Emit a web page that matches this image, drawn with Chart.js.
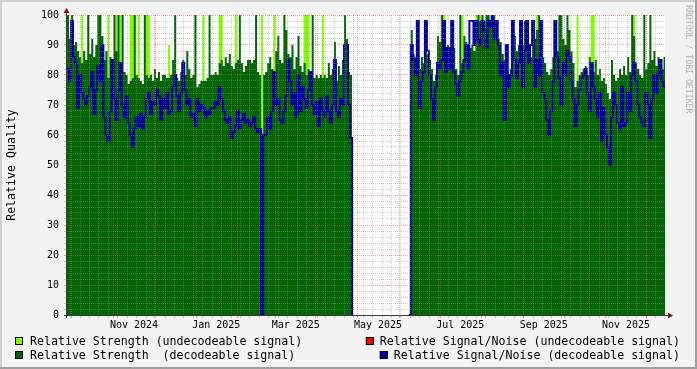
<!DOCTYPE html>
<html>
<head>
<meta charset="utf-8">
<title>Relative Quality</title>
<script src="https://cdn.jsdelivr.net/npm/chart.js@4.4.1/dist/chart.umd.min.js"></script>
<style>
  html, body { margin: 0; padding: 0; background: #f2f2f2; }
  canvas { display: block; }
</style>
</head>
<body>
<canvas id="chart" width="697" height="369"></canvas>
<script>
// x values are days since 2024-10-01, one consolidated RRD row every 1.5 days
const firstSampleDay = -3.7;
const sampleStepDays = 1.5;
const axisFirstDay = -3.7;
const axisLastDay = 439.9;

// first of each month (days since 2024-10-01) -> major grid
const monthStartDays = [0, 31, 61, 92, 123, 151, 182, 212, 243, 273, 304, 335, 365, 396, 426];
// first monday shown -> weekly minor grid
const firstMondayDay = -1;
// month labels sit in the middle of their month
const labelDays = [46, 107, 166, 227, 288, 350, 411];
const labelTexts = ['Nov 2024', 'Jan 2025', 'Mar 2025', 'May 2025', 'Jul 2025', 'Sep 2025', 'Nov 2025'];

const yMax = 100;
const yMinorStep = 2;
const yMajorStep = 10;

const decodeableStrength = [
  100, 92, 100, 90, 91, 88, 86, 84, 88, 85,
  100, 87, 92, 86, 90, 100, 100, 93, 85, 88,
  79, 86, 84, 100, 88, 100, 84, 100, 81, 80,
  77, 78, 79, 100, 80, 79, 78, 77, 100, 80,
  79, 80, 78, 82, 79, 81, 78, 80, 80, 79,
  79, 80, 85, 100, 79, 78, 81, 85, 80, 88,
  82, 79, 80, 100, 76, 77, 78, 78, 78, 79,
  100, 80, 80, 81, 80, 84, 85, 83, 86, 84,
  87, 83, 82, 84, 85, 100, 84, 81, 83, 85,
  85, 84, 85, 100, 81, 80, 0, 80, 81, 84,
  86, 82, 81, 88, 93, 85, 84, 100, 95, 87,
  86, 90, 82, 86, 93, 83, 81, 84, 80, 82,
  81, 100, 79, 80, 79, 80, 79, 80, 79, 84,
  80, 82, 91, 78, 83, 80, 85, 100, 92, 81,
  80, 0, null, null, null, null, null, null, null, null,
  null, null, null, null, null, null, null, null, null, null,
  null, null, null, null, null, null, null, null, null, 0,
  95, 87, 86, 90, 82, 86, 84, 91, 87, 85,
  82, 78, 80, 93, 91, 100, 88, 86, 90, 88,
  85, 89, 82, 80, 100, 84, 93, 91, 90, 89,
  90, 88, 92, 100, 98, 100, 98, 100, 100, 97,
  100, 98, 95, 92, 91, 87, 85, 85, 80, 82,
  87, 93, 88, 90, 92, 90, 98, 94, 87, 86,
  90, 92, 95, 100, 88, 86, 84, 81, 80, 82,
  86, 90, 88, 100, 100, 92, 90, 100, 95, 88,
  84, 76, 78, 80, 81, 82, 83, 80, 86, 79,
  81, 85, 80, 82, 78, 79, 77, 74, 72, 85,
  80, 78, 79, 82, 80, 83, 80, 86, 81, 100,
  93, 84, 82, 80, 79, 100, 82, 84, 100, 85,
  88, 83, 86, 84, 82, 86, 86
];

const undecodeableStrength = [
  0, 0, 0, 0, 0, 0, 0, 100, 0, 0,
  0, 0, 0, 0, 0, 0, 0, 0, 0, 0,
  100, 0, 0, 0, 100, 0, 100, 0, 0, 0,
  0, 100, 100, 0, 0, 100, 0, 0, 0, 100,
  100, 0, 0, 0, 0, 0, 0, 0, 0, 0,
  90, 0, 0, 0, 0, 0, 0, 0, 0, 0,
  0, 0, 0, 0, 0, 0, 0, 100, 0, 0,
  0, 0, 0, 0, 0, 100, 100, 0, 0, 0,
  0, 0, 0, 100, 0, 0, 0, 0, 0, 0,
  0, 0, 0, 0, 0, 0, 100, 0, 0, 0,
  0, 0, 100, 0, 0, 0, 0, 0, 0, 0,
  0, 0, 0, 0, 0, 0, 0, 100, 100, 100,
  0, 0, 0, 0, 0, 0, 100, 0, 0, 0,
  0, 0, 0, 0, 0, 0, 0, 0, 0, 0,
  0, 0, null, null, null, null, null, null, null, null,
  null, null, null, null, null, null, null, null, null, null,
  null, null, null, null, null, null, null, null, null, 0,
  0, 0, 0, 0, 0, 0, 0, 0, 0, 0,
  0, 0, 0, 0, 0, 0, 100, 0, 0, 0,
  0, 0, 0, 0, 0, 100, 0, 0, 0, 0,
  0, 0, 100, 0, 100, 0, 0, 0, 0, 0,
  0, 100, 0, 0, 0, 0, 0, 0, 0, 0,
  0, 0, 0, 0, 0, 0, 0, 0, 0, 0,
  0, 0, 100, 0, 0, 0, 0, 0, 0, 0,
  0, 0, 0, 0, 0, 0, 0, 0, 0, 0,
  0, 0, 100, 0, 0, 0, 0, 0, 0, 100,
  100, 0, 0, 0, 0, 0, 0, 0, 0, 0,
  0, 0, 0, 0, 0, 0, 0, 0, 0, 0,
  100, 0, 0, 0, 0, 0, 0, 0, 0, 0,
  0, 0, 0, 0, 0, 0, 0
];

const decodeableSnr = [
  82, 78, 98, 86, 84, 69, 80, 74, 72, 70,
  73, 76, 81, 67, 75, 83, 78, 90, 66, 60,
  58, 68, 85, 72, 65, 75, 84, 70, 66, 73,
  64, 60, 56, 62, 66, 63, 67, 62, 66, 72,
  74, 67, 71, 70, 75, 73, 65, 72, 69, 74,
  67, 68, 76, 80, 73, 68, 74, 84, 75, 70,
  72, 66, 67, 63, 72, 68, 70, 69, 66, 68,
  67, 69, 69, 71, 70, 76, 72, 68, 65, 64,
  66, 59, 61, 63, 68, 62, 65, 67, 64, 65,
  63, 64, 66, 62, 61, 62, 0, 60, 60, 66,
  62, 68, 81, 70, 72, 65, 64, 68, 73, 85,
  78, 70, 74, 66, 80, 68, 76, 72, 69, 75,
  81, 70, 67, 71, 63, 72, 68, 66, 73, 68,
  64, 70, 85, 68, 66, 72, 70, 90, 90, 70,
  59, 0, null, null, null, null, null, null, null, null,
  null, null, null, null, null, null, null, null, null, null,
  null, null, null, null, null, null, null, null, null, 0,
  90, 85, 80, 98, 69, 78, 81, 98, 88, 80,
  72, 65, 76, 84, 82, 85, 98, 81, 89, 82,
  98, 81, 77, 73, 78, 81, 85, 90, 82, 98,
  98, 90, 98, 92, 90, 98, 95, 89, 98, 96,
  100, 92, 98, 90, 80, 84, 65, 90, 76, 80,
  98, 85, 79, 84, 98, 76, 88, 98, 84, 90,
  98, 76, 85, 80, 98, 74, 72, 65, 60, 68,
  78, 98, 86, 79, 70, 84, 80, 88, 86, 78,
  72, 63, 70, 75, 79, 80, 82, 74, 68, 84,
  76, 72, 66, 74, 58, 69, 60, 56, 50, 66,
  74, 70, 64, 62, 76, 63, 64, 74, 68, 80,
  84, 78, 70, 66, 64, 63, 74, 70, 59, 72,
  80, 74, 80, 85, 78, 76, 76
];

// never above the decodeable values in this period
const undecodeableSnr = [];

(() => {
  'use strict';

  const FONT = "'DejaVu Sans Mono', monospace";
  const BACK = '#f2f2f2';
  const GRID = 'rgba(143, 143, 143, 0.45)';
  const MGRID = 'rgba(222, 80, 80, 0.5)';
  const ARROW = '#8b1010';
  const AXIS = '#3a3a3a';

  const COLORS = {
    strengthUndec: '#80ff00',
    strength: '#006600',
    snrUndec: '#ff0000',
    snr: '#00009c'
  };

  /**
   * Turns a list of RRD rows into chart points
   *
   * @param {Array} values row values
   * @returns {Array} points
   */
  const toPoints = (values) => {
    return values.map((v, i) => ({ x: firstSampleDay + i * sampleStepDays, y: v }));
  };

  /**
   * Grid colour for x ticks
   */
  const xGridColor = (ctx) => {
    const kind = ctx.tick ? ctx.tick.kind : '';
    if (kind === 'major') return MGRID;
    if (kind === 'minor') return GRID;
    return 'rgba(0,0,0,0)';
  };

  /**
   * Grid colour for y ticks
   */
  const yGridColor = (ctx) => {
    if (!ctx.tick) return 'rgba(0,0,0,0)';
    return ctx.tick.value % yMajorStep === 0 ? MGRID : GRID;
  };

  /**
   * Background, axes with arrows, legend and watermark like rrdtool draws them
   */
  const rrdDecor = {
    id: 'rrdDecor',

    beforeDraw(chart) {
      const { ctx, width, height, chartArea: a } = chart;
      ctx.save();
      ctx.fillStyle = BACK;
      ctx.fillRect(0, 0, width, height);
      // shade
      ctx.fillStyle = '#cfcfcf';
      ctx.fillRect(0, 0, width, 2);
      ctx.fillRect(0, 0, 2, height);
      ctx.fillStyle = '#9e9e9e';
      ctx.fillRect(0, height - 2, width, 2);
      ctx.fillRect(width - 2, 0, 2, height);
      ctx.fillStyle = '#ffffff';
      ctx.fillRect(a.left, a.top, a.right - a.left, a.bottom - a.top);
      ctx.restore();
    },

    afterDraw(chart) {
      const { ctx, chartArea: a } = chart;
      const datasets = chart.data.datasets;
      ctx.save();

      // axes
      ctx.strokeStyle = AXIS;
      ctx.lineWidth = 1;
      ctx.beginPath();
      ctx.moveTo(a.left - 3, a.bottom + 0.5);
      ctx.lineTo(a.right + 4, a.bottom + 0.5);
      ctx.moveTo(a.left - 0.5, a.bottom + 3);
      ctx.lineTo(a.left - 0.5, a.top - 3);
      ctx.stroke();

      ctx.fillStyle = ARROW;
      ctx.beginPath();
      ctx.moveTo(a.right + 3, a.bottom - 2.5);
      ctx.lineTo(a.right + 8, a.bottom + 0.5);
      ctx.lineTo(a.right + 3, a.bottom + 3.5);
      ctx.closePath();
      ctx.fill();
      ctx.beginPath();
      ctx.moveTo(a.left - 3.5, a.top - 2);
      ctx.lineTo(a.left - 0.5, a.top - 7);
      ctx.lineTo(a.left + 2.5, a.top - 2);
      ctx.closePath();
      ctx.fill();

      // legend
      ctx.font = `11.6px ${FONT}`;
      ctx.textBaseline = 'alphabetic';
      const box = (x, y, color) => {
        ctx.fillStyle = color;
        ctx.fillRect(x, y, 8, 8);
        ctx.strokeStyle = '#000';
        ctx.strokeRect(x + 0.5, y + 0.5, 7, 7);
      };
      const rows = [345, 359];
      // left column: strength
      [datasets[3], datasets[2]].forEach((ds, i) => {
        box(15, rows[i] - 8, ds.backgroundColor);
        ctx.fillStyle = '#000';
        ctx.textAlign = 'left';
        ctx.fillText(ds.label, 30, rows[i]);
      });
      // right column: signal/noise, right aligned
      [datasets[1], datasets[0]].forEach((ds, i) => {
        ctx.textAlign = 'right';
        ctx.fillStyle = '#000';
        ctx.fillText(ds.label, 680, rows[i]);
        const w = ctx.measureText(ds.label).width;
        box(680 - w - 14, rows[i] - 8, ds.borderColor);
      });

      // watermark
      ctx.translate(688, 5);
      ctx.rotate(Math.PI / 2);
      ctx.font = `8.2px ${FONT}`;
      ctx.fillStyle = '#b0b0b0';
      ctx.textAlign = 'left';
      ctx.textBaseline = 'middle';
      ctx.fillText('RRDTOOL / TOBI OETIKER', 0, 0);

      ctx.restore();
    }
  };

  const stepLine = {
    stepped: true,
    pointRadius: 0,
    pointHoverRadius: 0,
    spanGaps: false
  };

  const config = {
    type: 'line',
    data: {
      datasets: [
        Object.assign({
          label: 'Relative Signal/Noise (decodeable signal)',
          data: toPoints(decodeableSnr),
          borderColor: COLORS.snr,
          borderWidth: 2,
          fill: false
        }, stepLine),
        Object.assign({
          label: 'Relative Signal/Noise (undecodeable signal)',
          data: toPoints(undecodeableSnr),
          borderColor: COLORS.snrUndec,
          borderWidth: 2,
          fill: false
        }, stepLine),
        Object.assign({
          label: 'Relative Strength  (decodeable signal)',
          data: toPoints(decodeableStrength),
          backgroundColor: COLORS.strength,
          borderColor: 'rgba(0,0,0,0)',
          borderWidth: 0,
          fill: 'origin'
        }, stepLine),
        Object.assign({
          label: 'Relative Strength (undecodeable signal)',
          data: toPoints(undecodeableStrength),
          backgroundColor: COLORS.strengthUndec,
          borderColor: 'rgba(0,0,0,0)',
          borderWidth: 0,
          fill: 'origin'
        }, stepLine)
      ]
    },
    options: {
      responsive: false,
      animation: false,
      devicePixelRatio: 1,
      events: [],
      layout: { padding: { left: 0, top: 15, right: 32, bottom: 0 } },
      plugins: {
        legend: { display: false },
        tooltip: { enabled: false }
      },
      scales: {
        x: {
          type: 'linear',
          min: axisFirstDay,
          max: axisLastDay,
          afterBuildTicks: (scale) => {
            const ticks = [];
            for (let d = firstMondayDay; d <= axisLastDay; d += 7) {
              ticks.push({ value: d, kind: 'minor' });
            }
            monthStartDays.forEach((d) => ticks.push({ value: d, kind: 'major' }));
            labelDays.forEach((d, i) => ticks.push({ value: d, kind: 'label', text: labelTexts[i] }));
            scale.ticks = ticks
              .filter((t) => t.value >= axisFirstDay && t.value <= axisLastDay)
              .sort((p, q) => p.value - q.value);
          },
          afterFit: (scale) => { scale.height = 54; },
          ticks: {
            autoSkip: false,
            maxRotation: 0,
            minRotation: 0,
            padding: 1,
            color: '#000',
            font: { family: FONT, size: 10 },
            callback: (value, index, ticks) => ticks[index].text || ''
          },
          grid: {
            z: 1,
            color: xGridColor,
            tickColor: xGridColor,
            tickLength: 3,
            lineWidth: 1
          },
          border: { display: false, dash: [1, 1] }
        },
        y: {
          min: 0,
          max: yMax,
          afterBuildTicks: (scale) => {
            const ticks = [];
            for (let v = 0; v <= yMax; v += yMinorStep) ticks.push({ value: v });
            scale.ticks = ticks;
          },
          afterFit: (scale) => { scale.width = 67; },
          ticks: {
            autoSkip: false,
            padding: 5,
            color: '#000',
            font: { family: FONT, size: 10 },
            callback: (value) => (value % yMajorStep === 0 ? String(value) : '')
          },
          grid: {
            z: 1,
            color: yGridColor,
            tickColor: yGridColor,
            tickLength: 3,
            lineWidth: 1
          },
          border: { display: false, dash: [1, 1] },
          title: {
            display: true,
            text: 'Relative Quality',
            color: '#000',
            font: { family: FONT, size: 11.6 },
            padding: { top: 5, bottom: 0 }
          }
        }
      }
    },
    plugins: [rrdDecor]
  };

  new Chart(document.getElementById('chart'), config);
})();
</script>
</body>
</html>
